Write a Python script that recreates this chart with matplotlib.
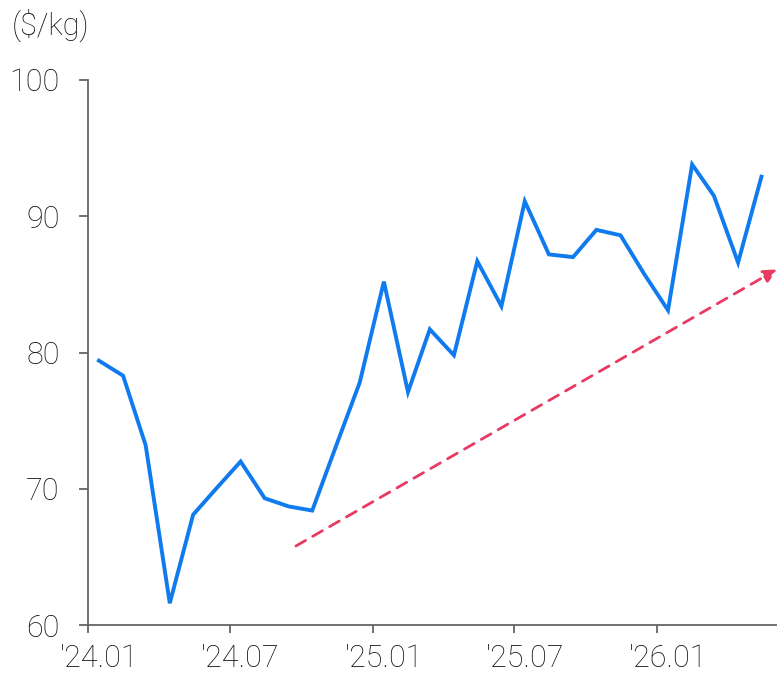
import pandas as pd
import numpy as np
import matplotlib
matplotlib.use("Agg")
import matplotlib.pyplot as plt

plt.rcParams['font.family'] = ['Roboto', 'DejaVu Sans']
plt.rcParams['font.weight'] = 'light'

# monthly price, '24.01 .. '26.05
months = pd.date_range("2024-01-01", periods=29, freq="MS") + pd.Timedelta(days=14)
price = [79.4, 78.3, 73.2, 61.6, 68.1, 70.1, 72.0, 69.3, 68.7, 68.4,
         73.2, 77.8, 85.2, 77.1, 81.7, 79.8, 86.7, 83.4, 91.1, 87.2,
         87.0, 89.0, 88.6, 85.8, 83.1, 93.8, 91.5, 86.6, 92.9]

tick_dates = pd.to_datetime(["2024-01-01", "2024-07-01", "2025-01-01", "2025-07-01", "2026-01-01"])
tick_labels = ["'24.01", "'24.07", "'25.01", "'25.07", "'26.01"]
yticks = [60, 70, 80, 90, 100]

# trend arrow (start / end)
arrow_x = pd.to_datetime(["2024-09-24", "2026-06-04"])
arrow_y = [65.8, 86.1]

fig = plt.figure(figsize=(7.77, 6.76), dpi=100)
ax = fig.add_axes([0.1133, 0.0754, 0.8867, 0.8063])

ax.plot(months, price, color="#0f7bef", lw=2.8, solid_joinstyle="miter")

ax.annotate("", xy=(arrow_x[1], arrow_y[1]), xytext=(arrow_x[0], arrow_y[0]),
            arrowprops=dict(arrowstyle="-|>,head_length=0.8,head_width=0.4",
                            color="#e83a62", lw=2.0, linestyle=(0, (4, 3)),
                            shrinkA=0, shrinkB=0))

ax.set_xlim(pd.Timestamp("2024-01-01"), arrow_x[1])
ax.set_ylim(60, 100)

for s in ["top", "right"]:
    ax.spines[s].set_visible(False)
for s in ["left", "bottom"]:
    ax.spines[s].set_color("#666666")
    ax.spines[s].set_linewidth(1.3)

ax.set_yticks(yticks)
ax.set_yticklabels([str(v) for v in yticks])
ax.tick_params(axis="y", length=6.5, width=1.3, color="#666666", pad=14,
               labelsize=22, labelcolor="#111111")

# ticks on the 1st, labels on mid-month
ax.set_xticks(tick_dates)
ax.set_xticklabels([""] * len(tick_dates))
ax.set_xticks(tick_dates + pd.Timedelta(days=14), minor=True)
ax.set_xticklabels(tick_labels, minor=True)
ax.tick_params(axis="x", which="major", length=6, width=1.3, color="#666666")
ax.tick_params(axis="x", which="minor", length=0, pad=14,
               labelsize=22, labelcolor="#111111")

fig.text(0.015, 0.963, "($/kg)", fontsize=22, color="#111111", va="center", ha="left")

fig.savefig("out.png", dpi=100)
